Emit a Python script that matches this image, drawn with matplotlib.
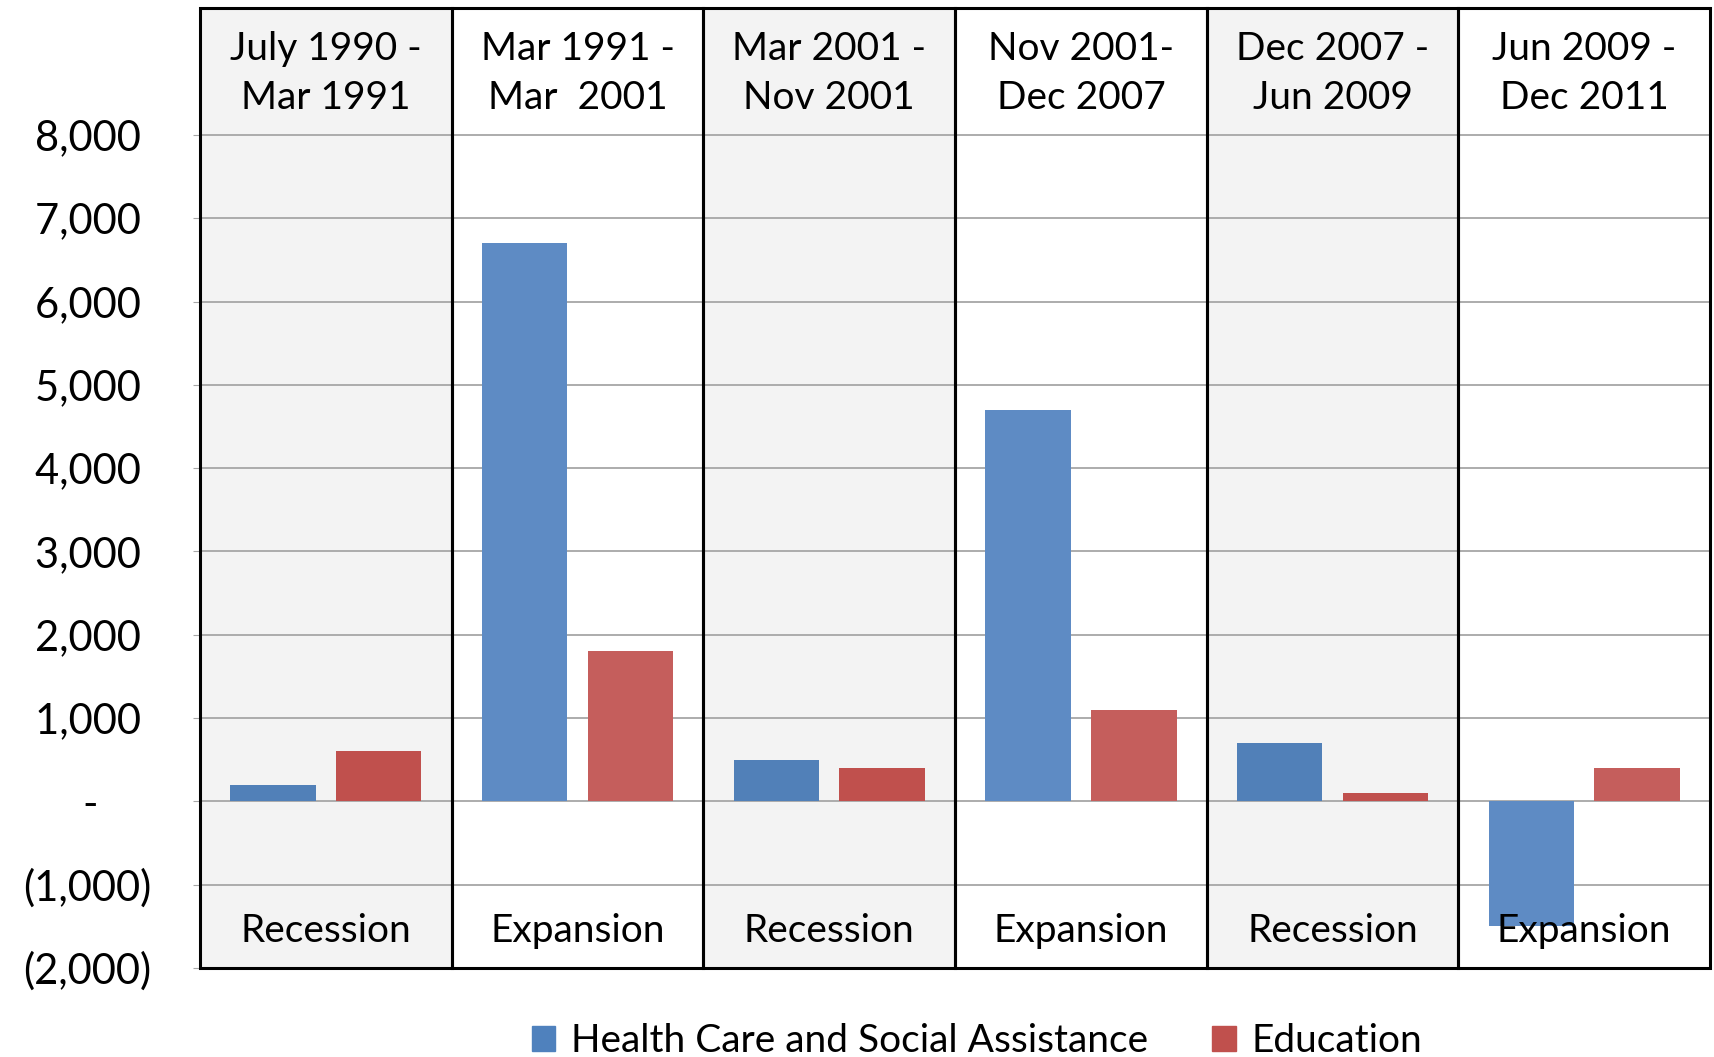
import matplotlib.pyplot as plt
from matplotlib.patches import Rectangle

plt.rcParams['font.family'] = ['Lato', 'DejaVu Sans']

periods = ['July 1990 -\nMar 1991', 'Mar 1991 -\nMar  2001', 'Mar 2001 -\nNov 2001',
           'Nov 2001-\nDec 2007', 'Dec 2007 -\nJun 2009', 'Jun 2009 -\nDec 2011']
phases = ['Recession', 'Expansion', 'Recession', 'Expansion', 'Recession', 'Expansion']
health = [200, 6700, 500, 4700, 700, -1500]
education = [600, 1800, 400, 1100, 100, 400]
yticks = [-2000, -1000, 0, 1000, 2000, 3000, 4000, 5000, 6000, 7000, 8000]


def fmt(v):
    if v == 0:
        return '-     '
    if v < 0:
        return '({:,})'.format(-v)
    return '{:,} '.format(v)


fig = plt.figure(figsize=(17.14, 10.57), dpi=100, facecolor='white')
ax = fig.add_axes([0.1167, 0.0842, 0.881, 0.908])
ax.set_facecolor('white')

top = 9520
ax.set_xlim(0, len(periods))
ax.set_ylim(-2000, top)

# grey background only behind the recession periods
for i, ph in enumerate(phases):
    if ph == 'Recession':
        ax.axvspan(i, i + 1, color='#F3F3F3', lw=0, zorder=0.2)
    ax.add_patch(Rectangle((i, -2000), 1, top + 2000, facecolor='none',
                           edgecolor='black', linewidth=2.2, zorder=3,
                           clip_on=False))

xs = [i + 0.5 for i in range(len(periods))]
blue = ['#5180B8' if p == 'Recession' else '#5E8BC4' for p in phases]
red = ['#C0504D' if p == 'Recession' else '#C55E5C' for p in phases]
w = 0.34
ax.bar([x - 0.21 for x in xs], health, width=w, color=blue, zorder=2,
       label='Health Care and Social Assistance')
ax.bar([x + 0.21 for x in xs], education, width=w, color=red, zorder=2,
       label='Education')

for x, p, ph in zip(xs, periods, phases):
    ax.text(x, 8740, p, ha='center', va='center', fontsize=28,
            linespacing=1.45, zorder=4)
    ax.text(x, -1560, ph, ha='center', va='center', fontsize=28, zorder=4)

ax.set_yticks(yticks)
ax.set_yticklabels([fmt(v) for v in yticks], fontsize=30)
ax.set_xticks([])
ax.yaxis.grid(True, color='#A6A6A6', linewidth=1.3)
ax.set_axisbelow(True)
ax.tick_params(axis='y', length=5, color='#A6A6A6', pad=30)
for s in ax.spines.values():
    s.set_visible(False)

handles = [Rectangle((0, 0), 1, 1, color='#4F81BD'),
           Rectangle((0, 0), 1, 1, color='#C0504D')]
fig.legend(handles, ['Health Care and Social Assistance', 'Education'],
           loc='lower center', bbox_to_anchor=(0.57, -0.035), ncol=2,
           frameon=False, fontsize=28, handlelength=0.6, handleheight=0.6,
           handletextpad=0.4, columnspacing=1.65)

fig.savefig('out.png', dpi=100)
